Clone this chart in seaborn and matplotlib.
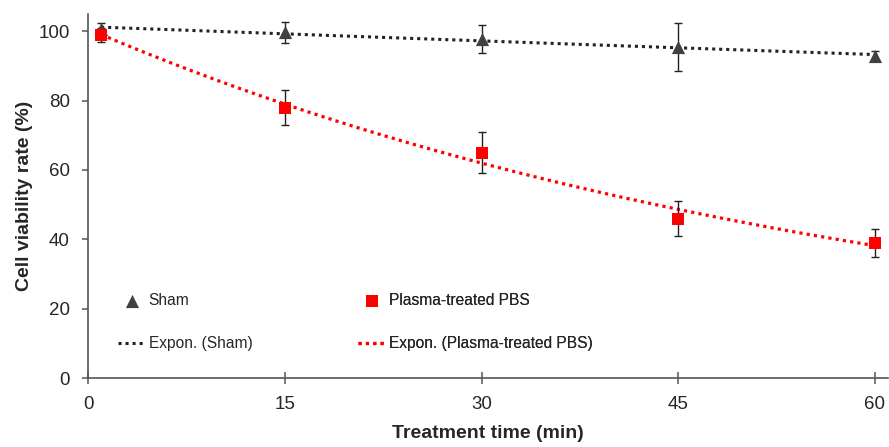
"""
Cell viability vs treatment time
"""

import numpy as np
import pandas as pd
import matplotlib
matplotlib.use("Agg")
import matplotlib.pyplot as plt
import seaborn as sns

# data
time_min = [1, 15, 30, 45, 60]
sham = [100.5, 99.7, 97.7, 95.4, 92.8]
sham_err = [2.0, 3.0, 4.0, 7.0, 1.5]
plasma = [99.0, 78.0, 65.0, 46.0, 39.0]
plasma_err = [2.0, 5.0, 6.0, 5.0, 4.0]

df = pd.DataFrame({"time": time_min * 2,
                   "viability": sham + plasma,
                   "err": sham_err + plasma_err,
                   "group": ["Sham"] * 5 + ["Plasma-treated PBS"] * 5})

sns.set_style("ticks")
plt.rcParams["font.family"] = ["Liberation Sans", "DejaVu Sans"]

grey = "#404040"
red = "#ff0000"

fig = plt.figure(figsize=(8.89, 4.47), dpi=100)
ax = fig.add_axes([0.099, 0.154, 0.900, 0.815])


# Excel-style exponential trendline: fit ln(y) = ln(a) + b*x
def expon(x, y):
    b, ln_a = np.polyfit(x, np.log(y), 1)
    xs = np.linspace(min(x), max(x), 200)
    return pd.DataFrame({"time": xs, "viability": np.exp(ln_a) * np.exp(b * xs)})


dots = (0, (1, 1.3))
sns.lineplot(data=expon(time_min, sham), x="time", y="viability", ax=ax,
             color="#222222", lw=2.2, linestyle=dots, label="Expon. (Sham)", zorder=2)
sns.lineplot(data=expon(time_min, plasma), x="time", y="viability", ax=ax,
             color=red, lw=2.3, linestyle=dots, label="Expon. (Plasma-treated PBS)", zorder=2)

for g in ["Sham", "Plasma-treated PBS"]:
    d = df[df["group"] == g]
    ax.errorbar(d["time"], d["viability"], yerr=d["err"], fmt="none",
                ecolor="#222222", elinewidth=1, capsize=3, capthick=1, zorder=3)

sns.scatterplot(data=df[df["group"] == "Sham"], x="time", y="viability", ax=ax,
                marker="^", s=90, color=grey, edgecolor=grey, linewidth=0,
                label="Sham", zorder=4)
sns.scatterplot(data=df[df["group"] == "Plasma-treated PBS"], x="time", y="viability", ax=ax,
                marker="s", s=70, color=red, edgecolor=red, linewidth=0,
                label="Plasma-treated PBS", zorder=5)

ax.set_xlim(0, 61)
ax.set_ylim(0, 105)
ax.set_xticks([0, 15, 30, 45, 60])
ax.set_yticks([0, 20, 40, 60, 80, 100])
ax.set_xlabel("Treatment time (min)", fontsize=14, fontweight="bold", labelpad=9)
ax.set_ylabel("Cell viability rate (%)", fontsize=14, fontweight="bold", labelpad=4)

for s in ["top", "right"]:
    ax.spines[s].set_visible(False)
for s in ["left", "bottom"]:
    ax.spines[s].set_color("#555555")
    ax.spines[s].set_linewidth(1.2)
ax.tick_params(axis="y", direction="out", length=4.5, width=1.1, color="#555555",
               labelsize=13.5, pad=8.5)
ax.tick_params(axis="x", direction="inout", length=9, width=1.1, color="#555555",
               labelsize=13.5, pad=8)

# two legend columns placed separately
h, l = ax.get_legend_handles_labels()
hl = dict(zip(l, h))
leg_kw = dict(frameon=False, fontsize=11.2, loc="upper left", borderpad=0,
              borderaxespad=0, handlelength=1.8, handletextpad=0.15,
              labelspacing=1.8, bbox_transform=fig.transFigure)
cols = [(["Sham", "Expon. (Sham)"], 0.133),
        (["Plasma-treated PBS", "Expon. (Plasma-treated PBS)"], 0.403)]
for labels, x0 in cols:
    leg = ax.legend([hl[k] for k in labels], labels,
                    bbox_to_anchor=(x0, 0.344), **leg_kw)
    ax.add_artist(leg)

fig.savefig("out.png", dpi=100)
